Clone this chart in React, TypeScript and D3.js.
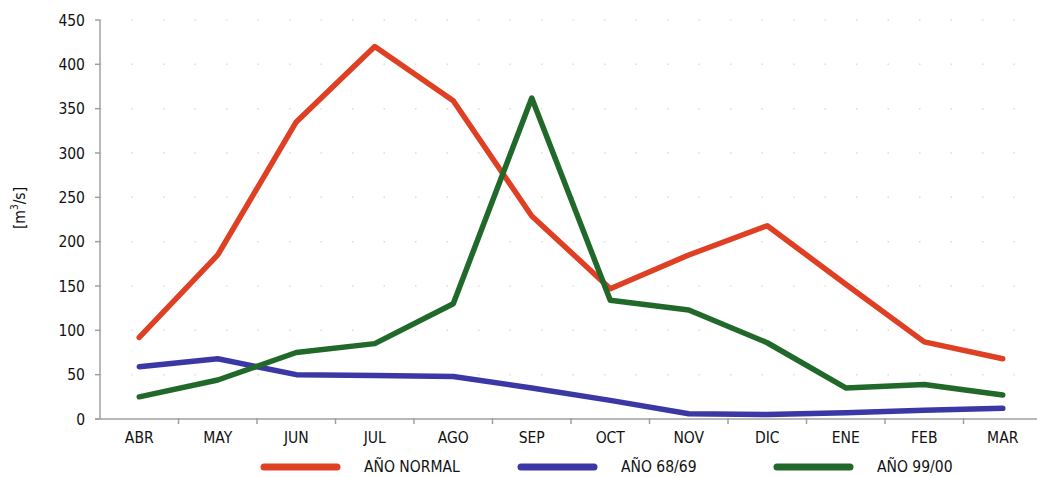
import React from "react";
import * as d3 from "d3";

const months = ["ABR", "MAY", "JUN", "JUL", "AGO", "SEP", "OCT", "NOV", "DIC", "ENE", "FEB", "MAR"];
const normal = [92, 185, 335, 420, 359, 229, 147, 185, 218, 152, 87, 68];
const ano6869 = [59, 68, 50, 49, 48, 35, 21, 6, 5, 7, 10, 12];
const ano9900 = [25, 44, 75, 85, 130, 362, 134, 123, 86, 35, 39, 27];
const yTicks = [0, 50, 100, 150, 200, 250, 300, 350, 400, 450];
const seriesNames = ["AÑO NORMAL", "AÑO 68/69", "AÑO 99/00"];
const seriesColors = ["#df3f22", "#3b38a6", "#21692a"];

const W = 1037, H = 477;
const FONT = "'DejaVu Sans Condensed', 'DejaVu Sans', sans-serif";

export default function App() {
  const x = d3.scaleBand<string>().domain(months).range([100, 1042]);
  const y = d3.scaleLinear().domain([0, 450]).range([419, 20]);
  const line = d3
    .line<number>()
    .x((_, i) => (x(months[i]) as number) + x.bandwidth() / 2)
    .y((d) => y(d));
  const data = [normal, ano6869, ano9900];
  const legendX = [261, 518, 774];

  return (
    <svg width={W} height={H} style={{ position: "absolute", left: 0, top: 0, background: "#fff" }}>
      {/* faint dotted gridlines */}
      {yTicks.filter((t) => t > 0).map((t) => (
        <line key={t} x1={100} x2={1037} y1={y(t)} y2={y(t)} stroke="#dcdcdc" strokeWidth={1.5} strokeDasharray="1.5 30" />
      ))}
      {/* y axis */}
      <line x1={100} x2={100} y1={y(450)} y2={y(0)} stroke="#a0a0a0" strokeWidth={1.5} />
      {yTicks.map((t) => (
        <g key={t}>
          <line x1={95} x2={100} y1={y(t)} y2={y(t)} stroke="#a0a0a0" strokeWidth={1.5} />
          <text x={85} y={y(t)} dy="0.36em" textAnchor="end" fontFamily={FONT} fontSize={15.5} fill="#111">
            {t}
          </text>
        </g>
      ))}
      <text transform={`translate(25,208) rotate(-90)`} textAnchor="middle" fontFamily={FONT} fontSize={15.5} fill="#111">
        [m<tspan fontSize={10} dy={-7}>3</tspan><tspan dy={7}>/s]</tspan>
      </text>
      {/* x axis */}
      <line x1={95} x2={1037} y1={y(0)} y2={y(0)} stroke="#a0a0a0" strokeWidth={1.5} />
      {months.map((m, i) => (
        <g key={m}>
          {i > 0 && (
            <line x1={x(m)} x2={x(m)} y1={y(0) - 1} y2={y(0) + 5} stroke="#a0a0a0" strokeWidth={1.5} />
          )}
          <text x={(x(m) as number) + x.bandwidth() / 2} y={443} textAnchor="middle" fontFamily={FONT} fontSize={15.5} fill="#111">
            {m}
          </text>
        </g>
      ))}
      {/* lines */}
      {data.map((d, k) => (
        <path key={k} d={line(d) || ""} fill="none" stroke={seriesColors[k]} strokeWidth={5.5} strokeLinejoin="round" strokeLinecap="round" />
      ))}
      {/* legend */}
      {seriesNames.map((n, k) => (
        <g key={n}>
          <line x1={legendX[k] + 3} x2={legendX[k] + 76} y1={467} y2={467} stroke={seriesColors[k]} strokeWidth={7} strokeLinecap="round" />
          <text x={legendX[k] + 103} y={472} fontFamily={FONT} fontSize={15.5} fill="#111">
            {n}
          </text>
        </g>
      ))}
    </svg>
  );
}
